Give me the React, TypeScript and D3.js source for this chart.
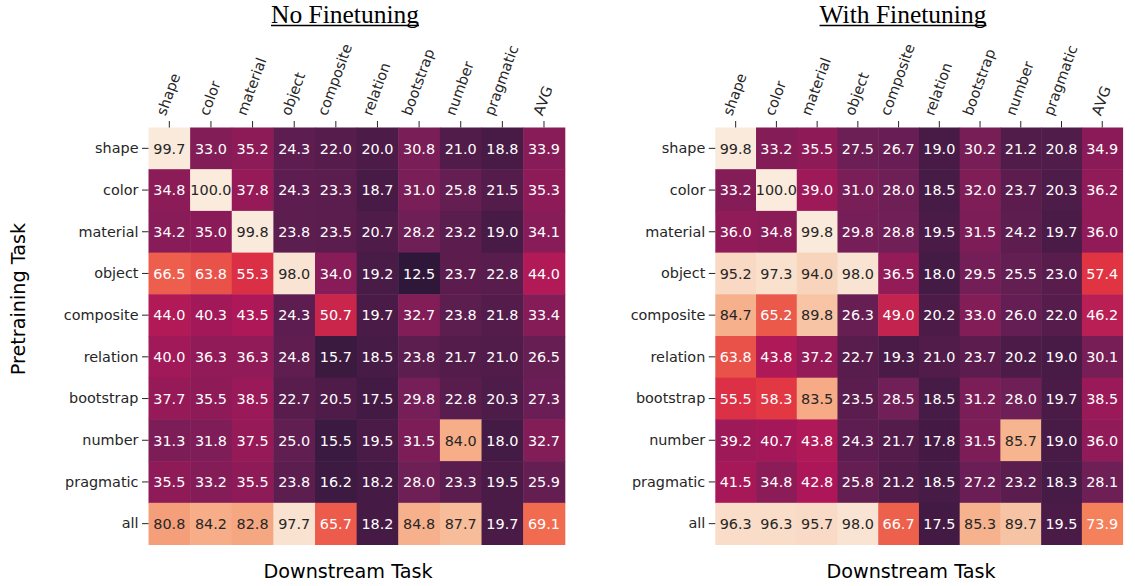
import React, { useEffect, useRef } from "react";
import * as d3 from "d3";

const downstreamTasks = ["shape", "color", "material", "object", "composite", "relation", "bootstrap", "number", "pragmatic", "AVG"];
const pretrainingTasks = ["shape", "color", "material", "object", "composite", "relation", "bootstrap", "number", "pragmatic", "all"];

const noFinetuning = [
  [99.7, 33.0, 35.2, 24.3, 22.0, 20.0, 30.8, 21.0, 18.8, 33.9],
  [34.8, 100.0, 37.8, 24.3, 23.3, 18.7, 31.0, 25.8, 21.5, 35.3],
  [34.2, 35.0, 99.8, 23.8, 23.5, 20.7, 28.2, 23.2, 19.0, 34.1],
  [66.5, 63.8, 55.3, 98.0, 34.0, 19.2, 12.5, 23.7, 22.8, 44.0],
  [44.0, 40.3, 43.5, 24.3, 50.7, 19.7, 32.7, 23.8, 21.8, 33.4],
  [40.0, 36.3, 36.3, 24.8, 15.7, 18.5, 23.8, 21.7, 21.0, 26.5],
  [37.7, 35.5, 38.5, 22.7, 20.5, 17.5, 29.8, 22.8, 20.3, 27.3],
  [31.3, 31.8, 37.5, 25.0, 15.5, 19.5, 31.5, 84.0, 18.0, 32.7],
  [35.5, 33.2, 35.5, 23.8, 16.2, 18.2, 28.0, 23.3, 19.5, 25.9],
  [80.8, 84.2, 82.8, 97.7, 65.7, 18.2, 84.8, 87.7, 19.7, 69.1],
];

const withFinetuning = [
  [99.8, 33.2, 35.5, 27.5, 26.7, 19.0, 30.2, 21.2, 20.8, 34.9],
  [33.2, 100.0, 39.0, 31.0, 28.0, 18.5, 32.0, 23.7, 20.3, 36.2],
  [36.0, 34.8, 99.8, 29.8, 28.8, 19.5, 31.5, 24.2, 19.7, 36.0],
  [95.2, 97.3, 94.0, 98.0, 36.5, 18.0, 29.5, 25.5, 23.0, 57.4],
  [84.7, 65.2, 89.8, 26.3, 49.0, 20.2, 33.0, 26.0, 22.0, 46.2],
  [63.8, 43.8, 37.2, 22.7, 19.3, 21.0, 23.7, 20.2, 19.0, 30.1],
  [55.5, 58.3, 83.5, 23.5, 28.5, 18.5, 31.2, 28.0, 19.7, 38.5],
  [39.2, 40.7, 43.8, 24.3, 21.7, 17.8, 31.5, 85.7, 19.0, 36.0],
  [41.5, 34.8, 42.8, 25.8, 21.2, 18.5, 27.2, 23.2, 18.3, 28.1],
  [96.3, 96.3, 95.7, 98.0, 66.7, 17.5, 85.3, 89.7, 19.5, 73.9],
];

const rocketStops = ["#03051a", "#35193e", "#701f57", "#ad1759", "#e13342", "#f37651", "#f6b48f", "#faebdd"];

const W = 1135;
const H = 586;
const SANS = "'DejaVu Sans', sans-serif";
const SERIF = "'Liberation Serif', 'Times New Roman', serif";

function luminance(c: string) {
  const rgb = d3.rgb(c);
  const lin = (v: number) => {
    const s = v / 255;
    return s <= 0.03928 ? s / 12.92 : Math.pow((s + 0.055) / 1.055, 2.4);
  };
  return 0.2126 * lin(rgb.r) + 0.7152 * lin(rgb.g) + 0.0722 * lin(rgb.b);
}

export default function App() {
  const ref = useRef<SVGSVGElement>(null);

  useEffect(() => {
    const svg = d3.select(ref.current);
    svg.selectAll("*").remove();

    const color = d3
      .scaleLinear<string>()
      .domain(rocketStops.map((_, i) => (i * 100) / (rocketStops.length - 1)))
      .range(rocketStops)
      .interpolate(d3.interpolateRgb)
      .clamp(true);

    const panels = [
      { title: "No Finetuning", data: noFinetuning, x0: 148.5, x1: 564.8, titleX: 345, xlabelX: 348, ylabel: true },
      { title: "With Finetuning", data: withFinetuning, x0: 715.3, x1: 1122.6, titleX: 903, xlabelX: 911, ylabel: false },
    ];
    const y0 = 127.5;
    const y1 = 544.5;
    const tickLen = 6.5;
    const fs = 14.4;
    const dark = "#262626";

    panels.forEach((p) => {
      const x = d3.scaleBand().domain(downstreamTasks).range([p.x0, p.x1]);
      const y = d3.scaleBand().domain(pretrainingTasks).range([y0, y1]);
      const g = svg.append("g");

      const cells = p.data.flatMap((row, ri) =>
        row.map((v, ci) => ({ v, r: pretrainingTasks[ri], c: downstreamTasks[ci] }))
      );

      g.selectAll("rect.cell")
        .data(cells)
        .join("rect")
        .attr("class", "cell")
        .attr("x", (d) => x(d.c)!)
        .attr("y", (d) => y(d.r)!)
        .attr("width", x.bandwidth() + 0.5)
        .attr("height", y.bandwidth() + 0.5)
        .attr("fill", (d) => color(d.v));

      g.selectAll("text.annot")
        .data(cells)
        .join("text")
        .attr("class", "annot")
        .attr("x", (d) => x(d.c)! + x.bandwidth() / 2)
        .attr("y", (d) => y(d.r)! + y.bandwidth() / 2)
        .attr("dy", "0.365em")
        .attr("text-anchor", "middle")
        .attr("font-family", SANS)
        .attr("font-size", fs)
        .attr("fill", (d) => (luminance(color(d.v)) > 0.408 ? dark : "#ffffff"))
        .text((d) => d.v.toFixed(1));

      g.selectAll("line.xt")
        .data(downstreamTasks)
        .join("line")
        .attr("class", "xt")
        .attr("x1", (d) => x(d)! + x.bandwidth() / 2)
        .attr("x2", (d) => x(d)! + x.bandwidth() / 2)
        .attr("y1", y0 - tickLen)
        .attr("y2", y0)
        .attr("stroke", dark)
        .attr("stroke-width", 1);

      g.selectAll("line.yt")
        .data(pretrainingTasks)
        .join("line")
        .attr("class", "yt")
        .attr("y1", (d) => y(d)! + y.bandwidth() / 2)
        .attr("y2", (d) => y(d)! + y.bandwidth() / 2)
        .attr("x1", p.x0 - tickLen)
        .attr("x2", p.x0)
        .attr("stroke", dark)
        .attr("stroke-width", 1);

      g.selectAll("text.yl")
        .data(pretrainingTasks)
        .join("text")
        .attr("class", "yl")
        .attr("x", p.x0 - tickLen - 3.5)
        .attr("y", (d) => y(d)! + y.bandwidth() / 2)
        .attr("dy", "0.33em")
        .attr("text-anchor", "end")
        .attr("font-family", SANS)
        .attr("font-size", fs)
        .attr("fill", dark)
        .text((d) => d);

      const ang = (70 * Math.PI) / 180;
      const cs = Math.cos(ang);
      const sn = Math.sin(ang);
      const asc = 0.76 * fs;
      const desc = 0.21 * fs;
      const bottomY = y0 - tickLen - 3.5;
      downstreamTasks.forEach((t) => {
        const txt = g
          .append("text")
          .attr("font-family", SANS)
          .attr("font-size", fs)
          .attr("fill", dark)
          .attr("text-anchor", "start")
          .text(t);
        const L = (txt.node() as SVGTextElement).getComputedTextLength();
        const cx = x(t)! + x.bandwidth() / 2;
        const ox = cx - (cs * L) / 2 + (sn * (asc - desc)) / 2;
        const oy = bottomY - cs * desc;
        txt.attr("transform", `translate(${ox},${oy}) rotate(-70)`);
      });

      const title = svg
        .append("text")
        .attr("x", p.titleX)
        .attr("y", 23)
        .attr("text-anchor", "middle")
        .attr("font-family", SERIF)
        .attr("font-size", 25.5)
        .attr("fill", "#000")
        .text(p.title);
      const tw = (title.node() as SVGTextElement).getComputedTextLength();
      svg
        .append("line")
        .attr("x1", p.titleX - tw / 2)
        .attr("x2", p.titleX + tw / 2)
        .attr("y1", 25.5)
        .attr("y2", 25.5)
        .attr("stroke", "#000")
        .attr("stroke-width", 1.4);

      svg
        .append("text")
        .attr("x", p.xlabelX)
        .attr("y", 578)
        .attr("text-anchor", "middle")
        .attr("font-family", SANS)
        .attr("font-size", 19.2)
        .attr("fill", "#000")
        .text("Downstream Task");

      if (p.ylabel) {
        svg
          .append("text")
          .attr("transform", "translate(25,299) rotate(-90)")
          .attr("text-anchor", "middle")
          .attr("font-family", SANS)
          .attr("font-size", 19.2)
          .attr("fill", "#000")
          .text("Pretraining Task");
      }
    });
  }, []);

  return (
    <svg
      ref={ref}
      width={W}
      height={H}
      style={{ position: "absolute", left: 0, top: 0, background: "#ffffff", display: "block" }}
    />
  );
}
